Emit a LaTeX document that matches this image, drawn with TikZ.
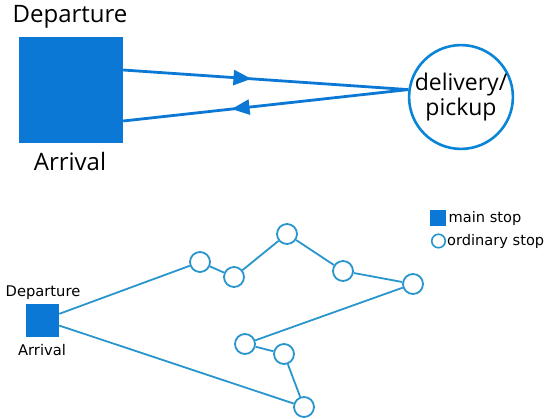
\documentclass[tikz,border=0pt]{standalone}
\usepackage{fontspec}
\setmainfont{Open Sans}
\newfontfamily\smallfont{DejaVu Sans}
\usetikzlibrary{arrows.meta,decorations.markings}
\definecolor{mainblue}{RGB}{10,120,212}
\definecolor{routeblue}{RGB}{40,150,205}
\tikzset{
  bigstop/.style={rectangle,fill=mainblue,draw=none,minimum width=104pt,minimum height=106pt,inner sep=0pt},
  bighub/.style={circle,draw=mainblue!90!cyan,line width=2.6pt,fill=white,minimum size=96pt,inner sep=0pt,
    align=center,font=\fontsize{23}{25}\selectfont},
  bigtext/.style={font=\fontsize{24}{26}\selectfont,inner sep=0pt},
  tripline/.style={draw=mainblue,line width=2.8pt},
  arrowat/.style={postaction={decorate},decoration={markings,
    mark=at position #1 with {\arrow{Triangle[length=18pt,width=15pt]}}}},
  mainstop/.style={rectangle,fill=mainblue,minimum size=33pt,inner sep=0pt},
  stop/.style={circle,draw=routeblue,line width=1.8pt,fill=white,minimum size=20pt,inner sep=0pt},
  route/.style={draw=routeblue,line width=1.8pt},
  smalltext/.style={font=\smallfont\fontsize{14.7}{16}\selectfont,inner sep=0pt},
  legendtext/.style={font=\smallfont\fontsize{14.6}{16}\selectfont,inner sep=0pt,anchor=west}
}
\begin{document}
\begin{tikzpicture}[x=1pt,y=-1pt]
\useasboundingbox (0,0) rectangle (546,418);

% single round trip between depot and customer
\node[bigstop] (depot) at (71,90) {};
\node[bigtext] (deplbl) at (70,17) {Departure};
\node[bigtext] (arrlbl) at (70,161) {Arrival};
\node[bighub] (cust) at (461,97) {delivery/\\pickup};

\draw[tripline,arrowat=0.45] ([yshift=20pt]depot.east) -- (cust.172);
\draw[tripline,arrowat=0.62] (cust.172) -- ([yshift=-31pt]depot.east);

% tour through several ordinary stops
\node[mainstop] (hub) at (42.5,320) {};
\node[smalltext] (hubdep) at (43,293) {Departure};
\node[smalltext] (hubarr) at (42,350) {Arrival};

\node[stop] (s1) at (200,262) {};
\node[stop] (s2) at (234,277) {};
\node[stop] (s3) at (287,234) {};
\node[stop] (s4) at (343,271) {};
\node[stop] (s5) at (413,284) {};
\node[stop] (s6) at (245,344) {};
\node[stop] (s7) at (284,354) {};
\node[stop] (s8) at (304,407) {};

\draw[route] (hub) -- (s1) -- (s2) -- (s3) -- (s4) -- (s5) -- (s6) -- (s7) -- (s8) -- (hub);

% legend
\node[rectangle,fill=mainblue,minimum size=16pt,inner sep=0pt] (keymain) at (438,218) {};
\node[legendtext] (keymaintxt) at (448.5,218) {main stop};
\node[circle,draw=routeblue,line width=1.6pt,minimum size=13.5pt,inner sep=0pt] (keyord) at (438.5,241) {};
\node[legendtext] (keyordtxt) at (447,241) {ordinary stop};
\end{tikzpicture}
\end{document}
